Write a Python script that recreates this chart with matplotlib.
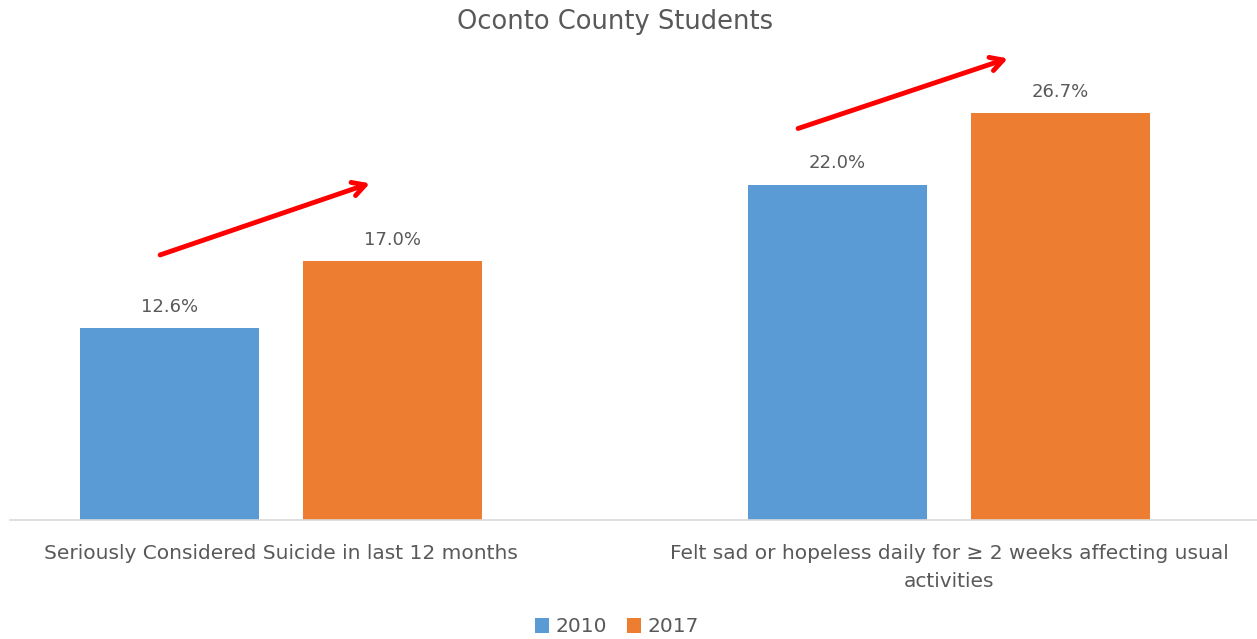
import matplotlib
matplotlib.use("Agg")
import matplotlib.pyplot as plt
import numpy as np

categories = ["Seriously Considered Suicide in last 12 months",
              "Felt sad or hopeless daily for \u2265 2 weeks affecting usual\nactivities"]
series_names = ["2010", "2017"]
values_2010 = [12.6, 22.0]
values_2017 = [17.0, 26.7]
title = "Oconto County Students"

blue = "#5B9BD5"
orange = "#ED7D31"
text_color = "#595959"

fig = plt.figure(figsize=(12.57, 6.39), dpi=100)
ax = fig.add_axes([10/1257, 119/639, 1247/1257, 0.7152])

x = np.arange(len(categories))
w = 0.268
off = 0.167
b1 = ax.bar(x - off, values_2010, w, color=blue, label=series_names[0])
b2 = ax.bar(x + off, values_2017, w, color=orange, label=series_names[1])

for bars, vals in ((b1, values_2010), (b2, values_2017)):
    for rect, v in zip(bars, vals):
        ax.annotate(f"{v:.1f}%", (rect.get_x() + rect.get_width()/2, v),
                    xytext=(0, 9), textcoords="offset points",
                    ha="center", va="bottom", fontsize=13, color=text_color)

ax.set_xlim(-0.4057, 1.461)
ax.set_ylim(0, 30)
ax.set_yticks([])
ax.set_xticks(x)
ax.set_xticklabels(categories, fontsize=14.5, color=text_color, linespacing=1.6)
ax.tick_params(axis="x", length=0, pad=17)
for s in ("top", "right", "left"):
    ax.spines[s].set_visible(False)
ax.spines["bottom"].set_color("#D9D9D9")
ax.spines["bottom"].set_linewidth(1.2)

# red trend arrows
arrows = [((-0.181, 17.4), (0.133, 22.1)), ((0.774, 25.7), (1.088, 30.3))]
for start, end in arrows:
    ax.annotate("", xy=end, xytext=start, annotation_clip=False,
                arrowprops=dict(arrowstyle="->,head_length=0.9,head_width=0.5",
                                color="#FF0000", lw=3.5, shrinkA=0, shrinkB=0))

fig.text(615/1257, 1 - 22/639, title, ha="center", va="center",
         fontsize=18.5, color=text_color)

leg = fig.legend(handles=[b1, b2], labels=series_names, loc="center",
                 bbox_to_anchor=(617/1257, 1 - 627/639), ncol=2, frameon=False,
                 fontsize=14.5, handlelength=0.7, handleheight=0.7,
                 handletextpad=0.3, columnspacing=1.0)
for t in leg.get_texts():
    t.set_color(text_color)

fig.savefig("out.png", dpi=100)
